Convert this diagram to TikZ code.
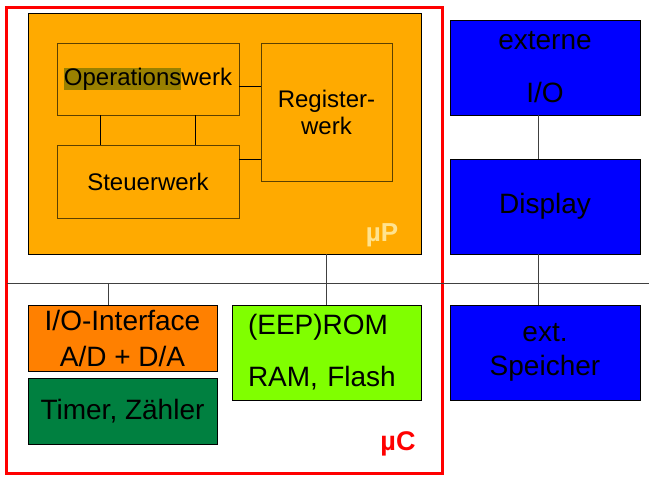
\documentclass[tikz,border=0pt]{standalone}
\usepackage{fontspec}
\setmainfont{Liberation Sans}
\usepackage{tikz}
\usetikzlibrary{positioning}
\definecolor{upfill}{HTML}{FFAA00}
\definecolor{werkline}{HTML}{5C4000}
\definecolor{hilite}{HTML}{998000}
\definecolor{uplabel}{HTML}{FFE38F}
\definecolor{ucred}{HTML}{FF0000}
\definecolor{iofill}{HTML}{FF8000}
\definecolor{timerfill}{HTML}{008040}
\definecolor{romfill}{HTML}{80FF00}
\definecolor{extblue}{HTML}{0000FF}
\definecolor{busgray}{HTML}{404040}
\tikzstyle{werk} = [rectangle, draw=werkline, fill=upfill, text centered, align=center, font=\fontsize{24}{27}\selectfont]
\tikzstyle{unit} = [rectangle, draw=black, text centered, align=center, minimum width=189pt, font=\fontsize{28}{36}\selectfont]
\tikzstyle{extern} = [unit, fill=extblue, minimum width=190pt, minimum height=95pt]
\tikzstyle{wire} = [draw=black, line width=0.8pt]
\tikzstyle{bus} = [draw=busgray, line width=1pt]
\setlength{\fboxsep}{0pt}

\begin{document}
\begin{tikzpicture}[x=1pt, y=-1pt, node distance=102.5pt]
    \useasboundingbox (0,0) rectangle (649,480);
    \node (uc) [rectangle, draw=ucred, line width=3pt, minimum width=436pt, minimum height=466pt] at (224.5,240.5) {};
    \node (up) [rectangle, draw=black, fill=upfill, minimum width=393pt, minimum height=241pt] at (224.5,133.5) {};
    \node (opw) [werk, minimum width=182pt, minimum height=72pt] at (148,79) {\colorbox{hilite}{Operations}werk};
    \node (stw) [werk, below of=opw, minimum width=182pt, minimum height=73pt] {Steuerwerk};
    \node (rgw) [werk, minimum width=131pt, minimum height=138pt] at (326.5,112) {Register-\\werk};
    \node (uplbl) [text=uplabel, font=\fontsize{26}{30}\selectfont\bfseries] at (382,235) {µP};
    \node (io) [unit, fill=iofill, minimum height=66pt] at (122.5,338) {I/O-Interface\\A/D + D/A};
    \node (timer) [unit, fill=timerfill, minimum height=66pt, below of=io, node distance=73pt] {Timer, Zähler};
    \node (rom) [unit, fill=romfill, minimum height=95pt, text width=157pt, align=left, font=\fontsize{28}{52}\selectfont] at (326.5,352.5) {(EEP)ROM\\RAM, Flash};
    \node (uclbl) [text=ucred, font=\fontsize{27}{30}\selectfont\bfseries] at (398,444) {µC};
    \node (extio) [extern, font=\fontsize{28}{53}\selectfont] at (545,67.5) {externe\\I/O};
    \node (disp) [extern, below of=extio, node distance=139pt] {Display};
    \node (spch) [extern, below of=disp, node distance=146pt, font=\fontsize{28}{33.6}\selectfont] {ext.\\Speicher};
    \coordinate (busL) at (7,283);
    \coordinate (busR) at (649,283);
    \coordinate (iotap) at (108,283);

    % inner connections of the processor
    \draw [wire] ([xshift=-48pt]opw.south) -- ([xshift=-48pt]stw.north);
    \draw [wire] ([xshift=47pt]opw.south) -- ([xshift=47pt]stw.north);
    \draw [wire] ([yshift=-7pt]opw.east) -- ([yshift=-7pt]opw.east -| rgw.west);
    \draw [wire] ([yshift=22.5pt]stw.east) -- ([yshift=22.5pt]stw.east -| rgw.west);
    % bus
    \draw [bus] (busL) -- (busR);
    \draw [bus] (rom.north |- up.south) -- (rom.north);
    \draw [bus] (iotap) -- (iotap |- io.north);
    \draw [bus] ([xshift=-7pt]extio.south) -- ([xshift=-7pt]disp.north);
    \draw [bus] ([xshift=-7pt]disp.south) -- ([xshift=-7pt]spch.north);
\end{tikzpicture}
\end{document}
